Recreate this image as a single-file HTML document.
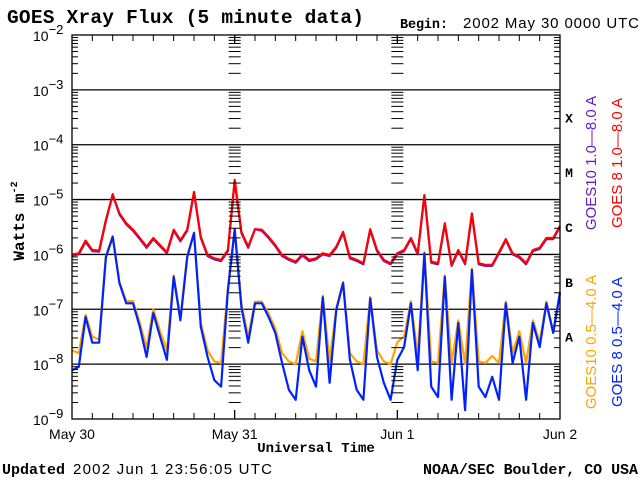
<!DOCTYPE html>
<html><head><meta charset="utf-8"><style>
html,body{margin:0;padding:0;background:#fff;width:640px;height:480px;overflow:hidden}
svg{display:block}
.s{font-family:"Liberation Sans",sans-serif}
.b{font-family:"Liberation Mono",monospace;font-weight:bold}
</style></head><body>
<svg id="chart" width="640" height="480" viewBox="0 0 640 480">
<text class="b" x="7" y="23" font-size="19.5" textLength="357">GOES Xray Flux (5 minute data)</text>
<text class="b" x="400" y="28" font-size="13.5" textLength="48">Begin:</text>
<text class="s" x="463" y="28" font-size="15" textLength="176">2002 May 30 0000 UTC</text>
<text class="b" x="24" y="221" font-size="16" transform="rotate(-90 24 221)" text-anchor="middle">Watts m<tspan dy="-7" font-size="10">-2</tspan></text>
<text class="b" x="316" y="452" font-size="14" text-anchor="middle">Universal Time</text>
<text class="b" x="2" y="474" font-size="15" textLength="63">Updated</text>
<text class="s" x="73" y="474" font-size="15" textLength="199">2002 Jun  1 23:56:05 UTC</text>
<text class="b" x="638" y="474" font-size="15" text-anchor="end" textLength="215">NOAA/SEC Boulder, CO USA</text>
<g id="grid"></g><g id="series"></g><g id="axes"></g><g id="labels"></g>
</svg>
<script>
const dayLabels=["May 30","May 31","Jun 1","Jun 2"];
const decadeExps=[-2,-3,-4,-5,-6,-7,-8,-9];
const classLetters=["X","M","C","B","A"];
const classExps=[-3.5,-4.5,-5.5,-6.5,-7.5];
const goes8Long=[-6.0,-5.98,-5.75,-5.92,-5.93,-5.37,-4.92,-5.25,-5.43,-5.55,-5.70,-5.86,-5.70,-5.83,-5.96,-5.55,-5.74,-5.55,-4.86,-5.68,-6.01,-6.07,-6.10,-5.92,
-4.64,-5.59,-5.86,-5.54,-5.55,-5.68,-5.83,-6.01,-6.08,-6.13,-6.0,-6.10,-6.07,-5.98,-6.01,-5.86,-5.59,-6.05,-6.10,-6.16,-5.54,-5.92,-6.10,-6.16,
-5.98,-5.92,-5.70,-5.98,-4.92,-6.13,-6.16,-5.43,-6.19,-5.92,-6.16,-5.25,-6.16,-6.19,-6.19,-5.96,-5.72,-5.98,-6.04,-6.16,-5.92,-5.88,-5.70,-5.70,-5.48];
const goes10Long=[-6.02,-6.0,-5.77,-5.94,-5.95,-5.39,-4.90,-5.27,-5.45,-5.57,-5.72,-5.88,-5.72,-5.85,-5.98,-5.57,-5.76,-5.57,-4.88,-5.70,-6.03,-6.09,-6.12,-5.94,
-4.66,-5.61,-5.88,-5.54,-5.57,-5.70,-5.85,-6.03,-6.10,-6.15,-6.02,-6.12,-6.09,-6.0,-6.03,-5.88,-5.61,-6.07,-6.12,-6.18,-5.56,-5.94,-6.12,-6.18,
-6.0,-5.94,-5.72,-6.0,-4.92,-6.15,-6.18,-5.45,-6.21,-5.94,-6.18,-5.27,-6.18,-6.21,-6.21,-5.98,-5.74,-6.0,-6.06,-6.18,-5.94,-5.90,-5.72,-5.72,-5.50];
const goes8Short=[-8.11,-8.05,-7.14,-7.61,-7.61,-6.05,-5.68,-6.52,-6.89,-6.89,-7.32,-7.87,-7.07,-7.50,-7.92,-6.41,-7.20,-6.05,-5.61,-7.32,-7.87,-8.29,-8.41,-6.65,
-5.55,-6.96,-7.61,-6.89,-6.89,-7.14,-7.43,-7.98,-8.47,-8.65,-7.50,-8.11,-8.41,-6.78,-8.34,-7.01,-6.52,-7.92,-8.47,-8.65,-6.80,-7.87,-8.34,-8.65,
-7.92,-7.69,-6.89,-8.11,-5.98,-8.41,-8.60,-6.41,-8.65,-7.25,-8.84,-6.28,-8.41,-8.60,-8.23,-8.65,-6.89,-7.98,-7.50,-8.65,-7.25,-7.69,-6.89,-7.43,-6.70];
const goes10Short=[-7.75,-7.80,-7.10,-7.50,-7.55,-6.03,-5.66,-6.50,-6.85,-6.85,-7.25,-7.70,-7.00,-7.40,-7.75,-6.38,-7.15,-6.03,-5.60,-7.25,-7.75,-7.95,-7.98,-6.62,
-5.53,-6.90,-7.50,-6.86,-6.86,-7.08,-7.35,-7.80,-7.95,-8.0,-7.40,-7.90,-7.95,-6.75,-7.95,-6.98,-6.50,-7.80,-7.95,-8.0,-6.78,-7.75,-7.95,-8.0,
-7.60,-7.50,-6.85,-7.85,-5.96,-7.95,-7.98,-6.38,-7.98,-7.20,-8.0,-6.26,-7.95,-7.98,-7.85,-7.98,-6.86,-7.80,-7.40,-7.98,-7.20,-7.60,-6.86,-7.40,-6.68];
const NS='http://www.w3.org/2000/svg';
const X0=72,X1=560,Y0=35,Y1=419,HOURS=72;
const DEC=(Y1-Y0)/7;
function xOf(h){return X0+h*(X1-X0)/HOURS;}
function yOf(e){return Y0+(-2-e)*DEC;}
function mk(tag,attrs,parent){const el=document.createElementNS(NS,tag);for(const k in attrs)el.setAttribute(k,attrs[k]);parent.appendChild(el);return el;}
const grid=document.getElementById('grid'),axes=document.getElementById('axes'),series=document.getElementById('series'),labels=document.getElementById('labels');
decadeExps.forEach(e=>{if(e===-2||e===-9)return;const l=mk('line',{x1:X0,x2:X1,y1:yOf(e),y2:yOf(e),stroke:'#000','stroke-width':1.3},grid);

});
const fr=mk('rect',{x:X0,y:Y0,width:X1-X0,height:Y1-Y0,fill:'none',stroke:'#000','stroke-width':1.3},axes);


const tickXs=[[X0,1],[X1,-1],[xOf(24),1],[xOf(24),-1],[xOf(48),1],[xOf(48),-1]];
for(let d=-9;d<-2;d++){for(let m=2;m<=9;m++){const y=yOf(d+Math.log10(m));
tickXs.forEach(([x,s])=>{const t=mk('line',{x1:x,x2:x+s*6,y1:y,y2:y,stroke:'#000','stroke-width':1},axes);

});}}
for(let h=0;h<=HOURS;h+=3){const x=xOf(h);const L=(h%24===0)?0:6;
if(L){const a=mk('line',{x1:x,x2:x,y1:Y1,y2:Y1-L,stroke:'#000'},axes);


const b=mk('line',{x1:x,x2:x,y1:Y0,y2:Y0+L,stroke:'#000'},axes);

}}
[24,48].forEach(h=>{const x=xOf(h);const a=mk('line',{x1:x,x2:x,y1:Y1,y2:Y1-9,stroke:'#000','stroke-width':1.3},axes);


const b=mk('line',{x1:x,x2:x,y1:Y0,y2:Y0+9,stroke:'#000','stroke-width':1.3},axes);

});
decadeExps.forEach(e=>{const t=mk('text',{x:33,y:yOf(e)+6,'font-size':14,class:'s'},labels);


t.textContent='10';const sp=mk('tspan',{dy:-7,'font-size':13},t);sp.textContent='\u2212'+(-e);});
dayLabels.forEach((d,i)=>{const t=mk('text',{x:xOf(i*24),y:439,'font-size':14,'text-anchor':'middle',class:'s'},labels);


t.textContent=d;});
classLetters.forEach((c,i)=>{const t=mk('text',{x:569,y:yOf(classExps[i])+5,'font-size':13,'text-anchor':'middle',class:'b'},labels);


t.textContent=c;});
const legs=[["GOES10 1.0\u20148.0 A","#6a1bc4",596,163],["GOES 8 1.0\u20148.0 A","#ff0000",622,163],["GOES10 0.5\u20144.0 A","#ffa500",596,342],["GOES 8 0.5\u20144.0 A","#0022ff",622,342]];
legs.forEach(([txt,col,x,y])=>{const t=mk('text',{x:x,y:y,'font-size':15,fill:col,'text-anchor':'middle',class:'s',transform:`rotate(-90 ${x} ${y})`},labels);


t.textContent=txt;});
function draw(arr,col,name){let pts=[];arr.forEach((v,i)=>{pts.push(xOf(i).toFixed(1)+','+yOf(v).toFixed(1));});
const p=mk('polyline',{points:pts.join(' '),fill:'none',stroke:col,'stroke-width':2.2,'stroke-linejoin':'round'},series);

}
draw(goes10Short,'#ffa500','goes10-short-line');
draw(goes8Short,'#0022ff','goes8-short-line');
draw(goes10Long,'#6a1bc4','goes10-long-line');
draw(goes8Long,'#ff0000','goes8-long-line');
</script>
</body></html>
